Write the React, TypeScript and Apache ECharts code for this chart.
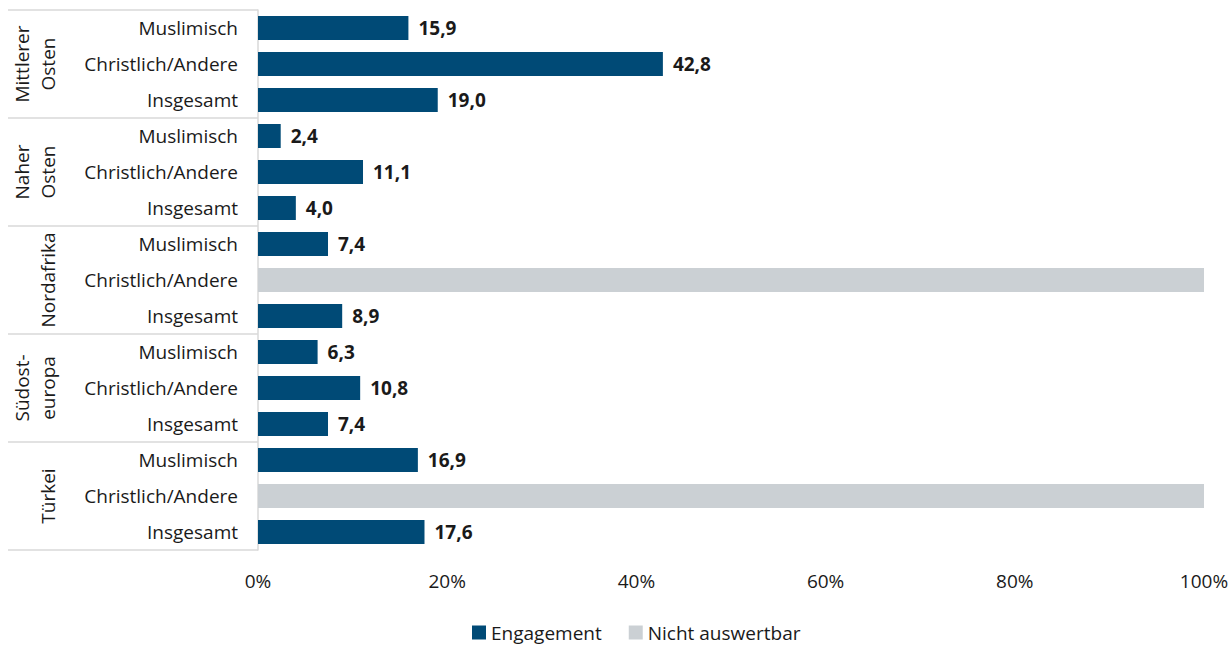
import React, { useEffect, useRef } from "react";
import * as echarts from "echarts";

const groups = ["Mittlerer\nOsten", "Naher\nOsten", "Nordafrika", "Südost-\neuropa", "Türkei"];
const subCategories = ["Muslimisch", "Christlich/Andere", "Insgesamt"];
const engagement: (number | null)[] = [
  15.9, 42.8, 19.0,
  2.4, 11.1, 4.0,
  7.4, null, 8.9,
  6.3, 10.8, 7.4,
  16.9, null, 17.6,
];
const nichtAuswertbar: (number | null)[] = [
  null, null, null,
  null, null, null,
  null, 100, null,
  null, null, null,
  null, 100, null,
];
const xTicks = [0, 20, 40, 60, 80, 100];

const FONT = "Open Sans";
const FS = 19;
const TEXT = "#1a1a1a";
const NAVY = "#004a76";
const GREY = "#cbd0d4";
const LINE = "#d9d9d9";

export default function App() {
  const ref = useRef<HTMLDivElement>(null);
  useEffect(() => {
    document.body.style.margin = "0";
    if (!ref.current) return;
    const chart = echarts.init(ref.current, undefined, { renderer: "svg" });
    const categoryKeys: string[] = [];
    groups.forEach((g, gi) => subCategories.forEach((s) => categoryKeys.push(gi + "|" + s)));
    chart.setOption({
      animation: false,
      textStyle: { fontFamily: FONT },
      grid: { left: 258, right: 28, top: 10, bottom: 96, containLabel: false },
      legend: {
        top: 618,
        left: 467,
        icon: "rect",
        itemWidth: 14,
        itemHeight: 14,
        itemGap: 27,
        textStyle: { fontFamily: FONT, fontSize: FS, color: TEXT },
        data: ["Engagement", "Nicht auswertbar"],
      },
      xAxis: {
        type: "value",
        min: xTicks[0],
        max: xTicks[xTicks.length - 1],
        interval: 20,
        axisLine: { show: false },
        axisTick: { show: false },
        splitLine: { show: false },
        axisLabel: {
          margin: 21,
          fontSize: FS,
          color: TEXT,
          fontFamily: FONT,
          formatter: (v: number) => v + "%",
        },
      },
      yAxis: [
        {
          type: "category",
          inverse: true,
          data: categoryKeys,
          axisLine: { show: true, lineStyle: { color: LINE, width: 1.5 } },
          axisTick: { show: false },
          axisLabel: {
            margin: 20,
            fontSize: FS,
            color: TEXT,
            fontFamily: FONT,
            interval: 0,
            formatter: (v: string) => v.split("|")[1],
          },
        },
        {
          type: "category",
          inverse: true,
          position: "left",
          offset: 250,
          data: groups,
          axisLine: { show: false },
          axisTick: { show: true, inside: true, length: 250, lineStyle: { color: LINE, width: 1.5 } },
          axisLabel: {
            inside: true,
            rotate: 90,
            margin: 53,
            align: "center",
            verticalAlign: "bottom",
            lineHeight: 26,
            fontSize: FS,
            color: TEXT,
            fontFamily: FONT,
            interval: 0,
          },
        },
      ],
      series: [
        {
          name: "Engagement",
          type: "bar",
          stack: "s",
          yAxisIndex: 0,
          barWidth: 24,
          itemStyle: { color: NAVY },
          data: engagement,
          label: {
            show: true,
            position: "right",
            distance: 10,
            fontSize: FS,
            fontWeight: "bold",
            color: TEXT,
            fontFamily: FONT,
            formatter: (p: any) => (p.value == null ? "" : Number(p.value).toFixed(1).replace(".", ",")),
          },
        },
        {
          name: "Nicht auswertbar",
          type: "bar",
          stack: "s",
          yAxisIndex: 0,
          barWidth: 24,
          itemStyle: { color: GREY },
          data: nichtAuswertbar,
        },
      ],
    });
    return () => chart.dispose();
  }, []);
  return <div ref={ref} style={{ width: 1232, height: 646 }} />;
}
